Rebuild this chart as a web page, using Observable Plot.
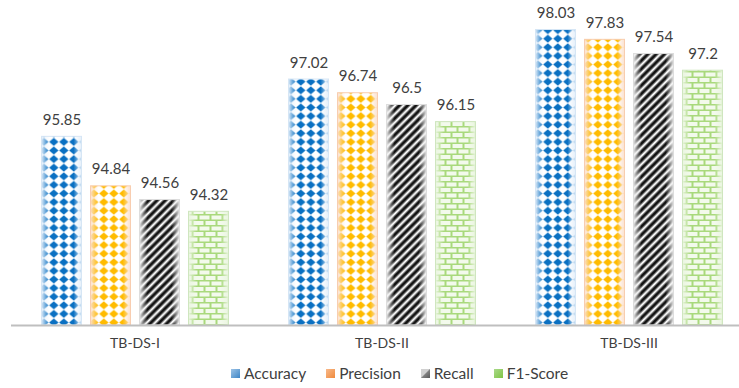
<!DOCTYPE html>
<html>
<head>
<meta charset="utf-8">
<script src="https://cdn.jsdelivr.net/npm/d3@7"></script>
<script src="https://cdn.jsdelivr.net/npm/@observablehq/plot@0.6"></script>
<style>
  body { margin: 0; background: #fff; font-family: Lato, "Open Sans", sans-serif; }
  #chart { width: 739px; }
  .legend { display: flex; justify-content: center; align-items: center; height: 30px;
            font-size: 15.5px; color: #404040; padding-left: 60px; }
  .legend .item { display: flex; align-items: center; margin: 0 10px; }
  .legend .sw { width: 9px; height: 9px; margin-right: 4px; }
</style>
</head>
<body>
<div id="chart"></div>
<script>
// Datasets (groups) and evaluation metrics (series)
const datasets = ["TB-DS-I", "TB-DS-II", "TB-DS-III"];
const metrics = ["Accuracy", "Precision", "Recall", "F1-Score"];

// Scores in percent, one value per dataset
const accuracy  = [95.85, 97.02, 98.03];
const precision = [94.84, 96.74, 97.83];
const recall    = [94.56, 96.5, 97.54];
const f1Score   = [94.32, 96.15, 97.2];

// Value axis range
const yDomain = [92, 98.5];

const seriesValues = [accuracy, precision, recall, f1Score];
const rows = datasets.flatMap((ds, i) =>
  metrics.map((m, j) => ({ dataset: ds, metric: m, value: seriesValues[j][i] }))
);

const patternIds = ["pat-acc", "pat-prec", "pat-rec", "pat-f1"];
const glowIds = ["glow-acc", "glow-prec", "glow-rec", "glow-f1"];
const edgeStrokes = ["#d6e6f5", "#f8cdb0", "#dddddd", "#cfe6bf"];

const bars = metrics.flatMap((m, j) => {
  const data = rows.filter(d => d.metric === m);
  return [
    Plot.barY(data, { fx: "dataset", x: "metric", y1: yDomain[0], y2: "value",
                      fill: `url(#${patternIds[j]})` }),
    Plot.barY(data, { fx: "dataset", x: "metric", y1: yDomain[0], y2: "value",
                      fill: `url(#${glowIds[j]})`, stroke: edgeStrokes[j], strokeWidth: 1 })
  ];
});

const svg = Plot.plot({
  width: 739,
  height: 358,
  marginTop: 6.5,
  marginBottom: 33,
  marginLeft: 10.5,
  marginRight: -12.5,
  style: { fontFamily: "Lato, 'Open Sans', sans-serif", fontSize: "14px", color: "#404040", background: "#fff" },
  fx: { domain: datasets, padding: 0, axis: "bottom", tickSize: 0, tickPadding: 13, label: null },
  x: { domain: metrics, paddingInner: 0.19, paddingOuter: 0.6, axis: null },
  y: { domain: yDomain, axis: null },
  marks: [
    ...bars,
    Plot.ruleY([yDomain[0]], { stroke: "#bfbfbf", strokeWidth: 2 }),
    Plot.text(rows, { fx: "dataset", x: "metric", y: "value", text: d => String(d.value),
                      lineAnchor: "bottom", dy: -12, fill: "#404040", fontSize: 15 })
  ]
});

// Fill patterns and edge highlights for the bars
const defs = d3.select(svg).insert("defs", ":first-child");

function diamondPattern(id, color) {
  const p = defs.append("pattern").attr("id", id)
    .attr("patternUnits", "userSpaceOnUse").attr("x", 8.3).attr("y", 0)
    .attr("width", 10).attr("height", 8.6);
  p.append("rect").attr("width", 10).attr("height", 8.6).attr("fill", "#ffffff");
  p.append("path").attr("d", "M5,0.2 L9.6,4.3 L5,8.4 L0.4,4.3Z").attr("fill", color);
}
diamondPattern("pat-acc", "#0a70c2");
diamondPattern("pat-prec", "#ffbb00");

const stripes = defs.append("pattern").attr("id", "pat-rec")
  .attr("patternUnits", "userSpaceOnUse").attr("width", 8.3).attr("height", 8.3);
stripes.append("rect").attr("width", 8.3).attr("height", 8.3).attr("fill", "#ffffff");
stripes.append("path").attr("d", "M-2,2 L2,-2 M0,8.3 L8.3,0 M6.3,10.3 L10.3,6.3")
  .attr("stroke", "#777").attr("stroke-width", 4.2);
stripes.append("path").attr("d", "M-2,2 L2,-2 M0,8.3 L8.3,0 M6.3,10.3 L10.3,6.3")
  .attr("stroke", "#111").attr("stroke-width", 2.4);

const brick = defs.append("pattern").attr("id", "pat-f1")
  .attr("patternUnits", "userSpaceOnUse").attr("width", 12).attr("height", 11);
brick.append("rect").attr("width", 12).attr("height", 11).attr("fill", "#a9d97c");
[[1, 1, 10, 4], [-5, 6.5, 10, 4], [7, 6.5, 10, 4]].forEach(([x, y, w, h]) =>
  brick.append("rect").attr("x", x).attr("y", y).attr("width", w).attr("height", h).attr("fill", "#f3faec"));

function glow(id, color) {
  const g = defs.append("linearGradient").attr("id", id)
    .attr("x1", 0).attr("x2", 1).attr("y1", 0).attr("y2", 0);
  [[0, 0.95], [0.1, 0.45], [0.2, 0], [0.8, 0], [0.9, 0.45], [1, 0.95]].forEach(([o, a]) =>
    g.append("stop").attr("offset", o).attr("stop-color", color).attr("stop-opacity", a));
}
glow("glow-acc", "#e4effa");
glow("glow-prec", "#fbe0cc");
glow("glow-rec", "#f2f2f2");
glow("glow-f1", "#eaf5e0");

document.getElementById("chart").append(svg);

// Legend below the chart
const swatches = [
  "linear-gradient(135deg, #9dc3e6, #3d85c6)",
  "linear-gradient(135deg, #f8b98a, #f08a3c)",
  "linear-gradient(135deg, #d0d0d0 0%, #d0d0d0 45%, #7f7f7f 55%, #595959 100%)",
  "linear-gradient(135deg, #a9d98a, #80c545)"
];
const legend = document.createElement("div");
legend.className = "legend";
metrics.forEach((m, j) => {
  const item = document.createElement("div");
  item.className = "item";
  const sw = document.createElement("span");
  sw.className = "sw";
  sw.style.background = swatches[j];
  const label = document.createElement("span");
  label.textContent = m;
  item.append(sw, label);
  legend.append(item);
});
document.getElementById("chart").append(legend);
</script>
</body>
</html>
